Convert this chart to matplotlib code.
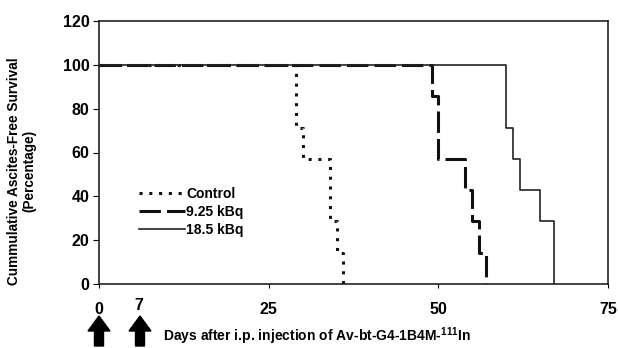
import numpy as np
import matplotlib.pyplot as plt
from matplotlib.patches import Polygon

plt.rcParams['font.family'] = ['Liberation Sans', 'DejaVu Sans']
plt.rcParams['font.weight'] = 'bold'

# survival curves (step data, days vs percent)
control_days = [0, 29, 30, 34, 35, 36]
control_surv = [100, 71.4, 57.1, 28.6, 14.3, 0]
low_days = [0, 49, 50, 54, 55, 56, 57]
low_surv = [100, 85.7, 57.1, 42.9, 28.6, 14.3, 0]
high_days = [0, 60, 61, 62, 65, 67]
high_surv = [100, 71.4, 57.1, 42.9, 28.6, 0]

labels = ['Control', '9.25 kBq', '18.5 kBq']
x_ticks = [0, 25, 50, 75]
y_ticks = [0, 20, 40, 60, 80, 100, 120]
injection_days = ['0', '7']

fig = plt.figure(figsize=(6.18, 3.48), dpi=100)
ax = fig.add_axes([99/618, 64/348, 509/618, 263/348])

ax.step(control_days, control_surv, where='post', color='#111111', lw=2.2,
        linestyle=(0, (1, 2.2)), label=labels[0])
ax.step(low_days, low_surv, where='post', color='#111111', lw=2.2,
        linestyle=(0, (7, 2)), label=labels[1])
ax.step(high_days, high_surv, where='post', color='#222222', lw=1.2,
        linestyle='-', label=labels[2])

ax.set_xlim(0, 75)
ax.set_ylim(0, 120)
ax.set_xticks(x_ticks)
ax.set_xticklabels(['0', '25', '50', '75'])
ax.set_yticks(y_ticks)
ax.tick_params(axis='x', length=3, pad=10, labelsize=11.5)
ax.tick_params(axis='y', length=4, pad=3, labelsize=11.5)
for s in ax.spines.values():
    s.set_linewidth(1.2)
    s.set_color('#222222')

ax.set_ylabel('Cummulative Ascites-Free Survival\n(Percentage)', fontsize=9.8,
              fontweight='bold', linespacing=1.1)
ax.yaxis.set_label_coords(-0.124, 0.43)

leg = ax.legend(loc='upper left', bbox_to_anchor=(0.078, 0.37), frameon=False,
                fontsize=10, handlelength=3.3, handletextpad=0.1,
                labelspacing=0.3, borderaxespad=0, borderpad=0)

# overlay axes in pixel units for the annotations below the plot
ov = fig.add_axes([0, 0, 1, 1])
ov.set_xlim(0, 618)
ov.set_ylim(348, 0)
ov.axis('off')

ov.text(139, 306, injection_days[1], ha='center', va='center', fontsize=11.5,
        fontweight='bold')
for cx in [99, 140]:
    pts = [(cx, 316), (cx + 11, 331), (cx + 4.5, 331), (cx + 4.5, 346),
           (cx - 4.5, 346), (cx - 4.5, 331), (cx - 11, 331)]
    ov.add_patch(Polygon(pts, closed=True, color='black'))

ov.text(163, 336, 'Days after i.p. injection of Av-bt-G4-1B4M-$\\mathregular{^{111}}$In',
        ha='left', va='center', fontsize=10, fontweight='bold')

fig.savefig('out.png', dpi=100)
